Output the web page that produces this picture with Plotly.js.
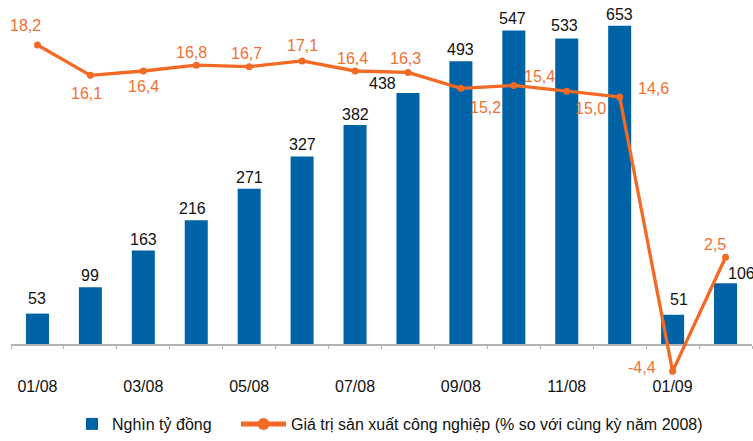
<!DOCTYPE html>
<html><head><meta charset="utf-8">
<script src="https://cdn.plot.ly/plotly-3.0.1.min.js"></script>
<style>html,body{margin:0;padding:0;background:#fff;}#chart{width:753px;height:441px;}</style>
</head><body><div id="chart"></div>
<script>
const categories = ['01/08','02/08','03/08','04/08','05/08','06/08','07/08','08/08','09/08','10/08','11/08','12/08','01/09','02/09'];
const tickLabels = ['01/08','','03/08','','05/08','','07/08','','09/08','','11/08','','01/09',''];
const barValues = [53,99,163,216,271,327,382,438,493,547,533,555,51,106];
const barLabels = ['53','99','163','216','271','327','382','438','493','547','533','653','51','106'];
const lineValues = [18.2,16.1,16.4,16.8,16.7,17.1,16.4,16.3,15.2,15.4,15.0,14.6,-4.4,3.5];
const lineLabels = ['18,2','16,1','16,4','16,8','16,7','17,1','16,4','16,3','15,2','15,4','15,0','14,6','-4,4','2,5'];
const barName = 'Nghìn tỷ đồng';
const lineName = 'Giá trị sản xuất công nghiệp (% so với cùng kỳ năm 2008)';

// label placement (style): [xshift, yshift] in px
const barLabelShift = [[0,15],[0,12],[0,11],[-4,12],[0,11.5],[0,12],[0,10.5],[-25,9],[0,12],[-1,12],[-2,12.5],[0,11],[6,15],[16,9.5]];
const lineLabelShift = [[-12,20],[-4,-18],[0,-16],[-5,13],[-3,13],[0,15],[-3,12.5],[-2,13.5],[25,-19],[26,9],[24,-17],[33.5,8],[-31,3.5],[-11,12.5]];

const FONT = 'Liberation Sans, Arial, sans-serif';
const BLUE = '#0063A6';
const ORANGE = '#F26A23';
const ORANGE_TXT = '#F0702F';
const FS = 16;

const traces = [
  {type:'bar', name:barName, x:categories, y:barValues, xaxis:'x', yaxis:'y', legend:'legend',
   marker:{color:BLUE}, width:0.435, hoverinfo:'none'},
  {type:'scatter', name:lineName, x:categories, y:lineValues, xaxis:'x2', yaxis:'y2', legend:'legend2',
   mode:'lines+markers', line:{color:ORANGE, width:3.3}, marker:{color:ORANGE, size:7},
   cliponaxis:false, hoverinfo:'none'}
];

const annotations = [];
categories.forEach((c,i)=>{
  annotations.push({xref:'x', yref:'y', x:c, y:barValues[i], text:barLabels[i], showarrow:false,
    xanchor:'center', yanchor:'middle', xshift:barLabelShift[i][0], yshift:barLabelShift[i][1],
    font:{family:FONT, size:FS, color:'#111'}});
  annotations.push({xref:'x2', yref:'y2', x:c, y:lineValues[i], text:lineLabels[i], showarrow:false,
    xanchor:'center', yanchor:'middle', xshift:lineLabelShift[i][0], yshift:lineLabelShift[i][1],
    font:{family:FONT, size:FS, color:ORANGE_TXT}});
});

const legendBase = {orientation:'h', xanchor:'left', y:0, yanchor:'bottom',
  font:{family:FONT, size:FS, color:'#111'}, bgcolor:'rgba(0,0,0,0)', itemsizing:'constant'};

const layout = {
  width:753, height:441,
  margin:{l:11, r:1, t:0, b:0, pad:0},
  paper_bgcolor:'#ffffff', plot_bgcolor:'rgba(0,0,0,0)',
  font:{family:FONT, size:FS, color:'#111'},
  showlegend:true,
  legend:Object.assign({}, legendBase, {x:0.0823}),
  legend2:Object.assign({}, legendBase, {x:0.3036, itemwidth:45}),
  xaxis:{type:'category', anchor:'y', domain:[0,1], range:[-0.5,13.5], automargin:false,
    showline:true, linecolor:'#b4b4b4', linewidth:1.5,
    ticks:'outside', ticklen:3, tickwidth:1, tickcolor:'#b4b4b4', tickson:'boundaries',
    tickmode:'array', tickvals:categories, ticktext:tickLabels, ticklabelstandoff:27,
    tickfont:{family:FONT, size:FS, color:'#111'}, showgrid:false, zeroline:false, fixedrange:true},
  yaxis:{anchor:'x', domain:[97/441,1], range:[0,600], visible:false, fixedrange:true},
  xaxis2:{type:'category', anchor:'y2', domain:[0,1], range:[-0.5,13.5], visible:false, fixedrange:true},
  yaxis2:{anchor:'x2', domain:[0,1], range:[-9.224,21.316], visible:false, fixedrange:true},
  annotations:annotations
};

Plotly.newPlot('chart', traces, layout, {displayModeBar:false, staticPlot:true});
</script>
</body></html>
